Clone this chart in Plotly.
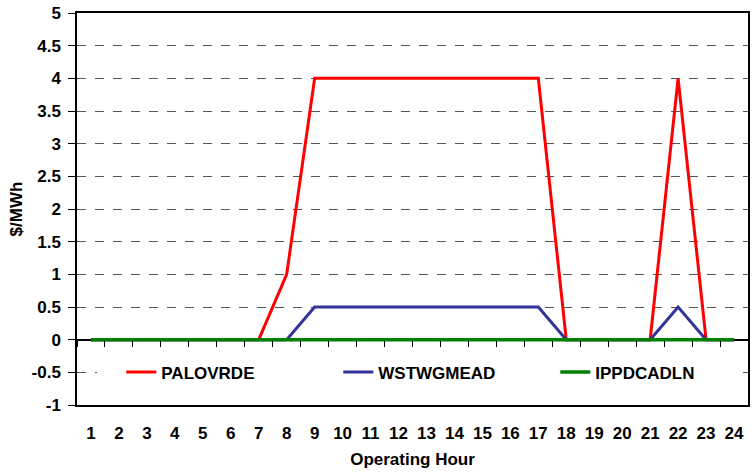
import plotly.graph_objects as go

hours = list(range(1, 25))
palovrde = [0, 0, 0, 0, 0, 0, 0, 1, 4, 4, 4, 4, 4, 4, 4, 4, 4, 0, 0, 0, 0, 4, 0, 0]
wstwgmead = [0, 0, 0, 0, 0, 0, 0, 0, 0.5, 0.5, 0.5, 0.5, 0.5, 0.5, 0.5, 0.5, 0.5, 0, 0, 0, 0, 0.5, 0, 0]
ippdcadln = [0] * 24
y_ticks = [-1, -0.5, 0, 0.5, 1, 1.5, 2, 2.5, 3, 3.5, 4, 4.5, 5]

font_family = "Liberation Sans, Arial, sans-serif"

fig = go.Figure()
# invisible trace to activate secondary x axis (tick marks on zero line)
fig.add_trace(go.Scatter(x=hours, y=ippdcadln, xaxis="x2", mode="markers",
                         marker=dict(opacity=0), showlegend=False, hoverinfo="skip"))
fig.add_trace(go.Scatter(x=hours, y=palovrde, mode="lines", name="<b>PALOVRDE</b>",
                         line=dict(color="#FF0000", width=3)))
fig.add_trace(go.Scatter(x=hours, y=wstwgmead, mode="lines", name="<b>WSTWGMEAD</b>",
                         line=dict(color="#333399", width=3)))
fig.add_trace(go.Scatter(x=hours, y=ippdcadln, mode="lines", name="<b>IPPDCADLN</b>",
                         line=dict(color="#008000", width=3.5)))

# white band behind the legend (hides the -0.5 gridline like the original)
fig.add_shape(type="rect", xref="x domain", yref="y", x0=0.03, x1=0.985, y0=-0.72, y1=-0.28,
              fillcolor="white", line=dict(width=0), layer="above")

fig.update_layout(
    width=755, height=473,
    margin=dict(l=77, r=7, t=13, b=68, autoexpand=False),
    paper_bgcolor="white", plot_bgcolor="white",
    font=dict(family=font_family, size=17, color="black"),
    showlegend=True,
    legend=dict(orientation="h", x=0.066, y=0.0833, xanchor="left", yanchor="middle",
                bgcolor="rgba(0,0,0,0)", font=dict(size=17, family=font_family),
                entrywidth=172, entrywidthmode="pixels", itemwidth=30,
                tracegroupgap=0),
    xaxis=dict(
        range=[0.5, 24.5], tickmode="array", tickvals=hours,
        ticktext=[f"<b>{h}</b>" for h in hours],
        showgrid=False, zeroline=False, ticks="", automargin=False,
        showline=True, linecolor="black", linewidth=1.5, mirror=True,
        ticklabelstandoff=12,
        title=dict(text="<b>Operating Hour</b>", font=dict(size=17), standoff=11),
        tickfont=dict(size=17),
    ),
    xaxis2=dict(
        overlaying="x", anchor="free", position=1/6, side="bottom",
        range=[0.5, 24.5], tickmode="linear", tick0=0.5, dtick=1,
        ticks="outside", ticklen=6, tickcolor="black", tickwidth=1,
        showticklabels=False, showgrid=False, zeroline=False, automargin=False,
        showline=False,
    ),
    yaxis=dict(
        range=[-1, 5], tickmode="array", tickvals=y_ticks,
        ticktext=[f"<b>{v:g}</b>" for v in y_ticks],
        showgrid=True, gridcolor="#555555", griddash="dash", gridwidth=1,
        zeroline=True, zerolinecolor="black", zerolinewidth=1.5,
        ticks="outside", ticklen=7, tickcolor="black", automargin=False,
        showline=True, linecolor="black", linewidth=1.5, mirror=True,
        ticklabelstandoff=4, ticklabeloverflow="allow",
        title=dict(text="<b>$/MWh</b>", font=dict(size=17), standoff=5),
        tickfont=dict(size=17),
    ),
)

# remove the browser's default 8px body margin so the figure fills the window
fig.write_html("out.html", config={"displayModeBar": False},
               post_script="document.body.style.margin='0px';")
